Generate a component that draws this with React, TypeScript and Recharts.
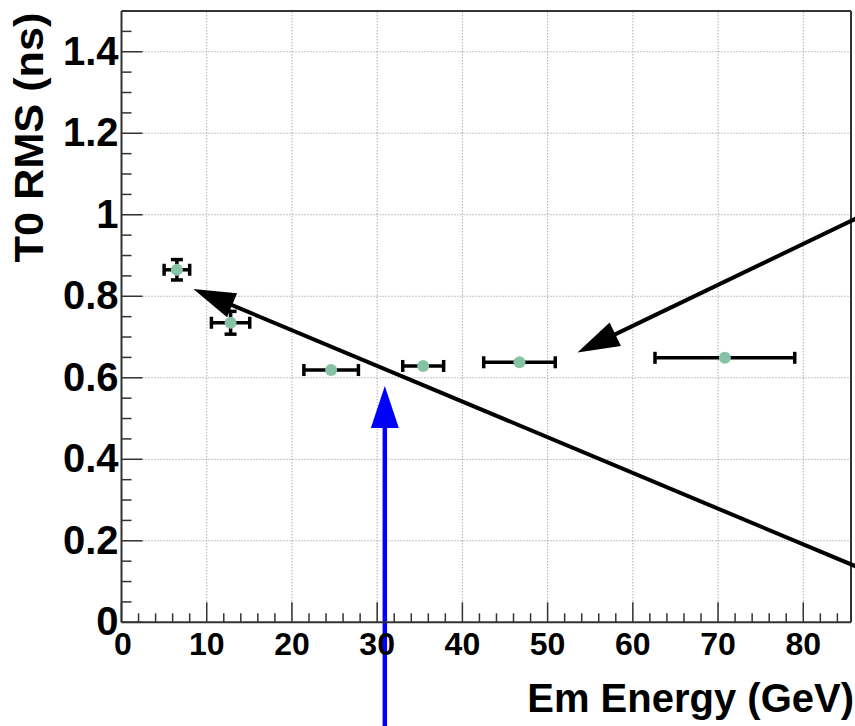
import React from 'react';
import { ComposedChart, Scatter, XAxis, YAxis, ErrorBar, ReferenceLine, Label } from 'recharts';

// ---- data ----
const emEnergy = [6.5, 12.8, 24.6, 35.4, 46.7, 70.8];
const emEnergyErr = [1.5, 2.25, 3.2, 2.4, 4.2, 8.2];
const t0Rms = [0.865, 0.735, 0.619, 0.629, 0.638, 0.649];
const t0RmsErr = [0.025, 0.028, 0, 0, 0, 0];

const xMajorTicks = [0, 10, 20, 30, 40, 50, 60, 70, 80];
const yMajorTicks = [0, 0.2, 0.4, 0.6, 0.8, 1, 1.2, 1.4];
const xMinorStep = 2;
const yMinorStep = 0.05;
const xDomain: [number, number] = [0, 85.6];
const yDomain: [number, number] = [0, 1.5];

const xTitle = 'Em Energy (GeV)';
const yTitle = 'T0 RMS (ns)';

// annotation arrows: tail -> tip (data coordinates)
const arrowTailX = [87, 87, 30.9];
const arrowTailY = [0.13, 0.999, -0.27];
const arrowTipX = [8.43, 53.5, 30.9];
const arrowTipY = [0.818, 0.662, 0.58];

// ---- derived tables ----
const points = emEnergy.map((x, i) => ({ x, y: t0Rms[i], xErr: emEnergyErr[i], yErr: t0RmsErr[i] }));
const xTicks: number[] = [];
for (let v = 0; v <= xDomain[1] + 1e-9; v += xMinorStep) xTicks.push(Math.round(v * 100) / 100);
const yTicks: number[] = [];
for (let i = 0; i * yMinorStep <= yDomain[1] + 1e-9; i++) yTicks.push(Math.round(i * yMinorStep * 1000) / 1000);

const FONT = '"Liberation Sans", Arial, Helvetica, sans-serif';
const AXIS_COLOR = '#333';

const isMajor = (v: number, list: number[]) => list.some((m) => Math.abs(m - v) < 1e-6);

const XTick = (props: any) => {
  const { x, y, payload } = props;
  const v = payload.value;
  const major = isMajor(v, xMajorTicks);
  return (
    <g>
      <line x1={x} y1={y} x2={x} y2={y - (major ? 20 : 9)} stroke={AXIS_COLOR} strokeWidth={1.5} />
      {major && (
        <text x={x + (v === 0 ? 1.5 : 0)} y={y + 33} textAnchor="middle" fontSize={32} fontWeight="bold" fontFamily={FONT} fill="#000">
          {String(v)}
        </text>
      )}
    </g>
  );
};

const YTick = (props: any) => {
  const { x, y, payload } = props;
  const v = payload.value;
  const major = isMajor(v, yMajorTicks);
  return (
    <g>
      <line x1={x} y1={y} x2={x + (major ? 21 : 10)} y2={y} stroke={AXIS_COLOR} strokeWidth={1.5} />
      {major && (
        <text x={x - 3} y={y + 13} textAnchor="end" fontSize={40} fontWeight="bold" fontFamily={FONT} fill="#000">
          {String(Math.round(v * 10) / 10)}
        </text>
      )}
    </g>
  );
};

const makeArrow = (color: string, width: number, headLen: number, headHalf: number) => (p: any) => {
  const { x1, y1, x2, y2 } = p;
  const dx = x2 - x1;
  const dy = y2 - y1;
  const len = Math.hypot(dx, dy) || 1;
  const ux = dx / len;
  const uy = dy / len;
  const bx = x2 - ux * headLen;
  const by = y2 - uy * headLen;
  const px = -uy;
  const py = ux;
  return (
    <g>
      <line x1={x1} y1={y1} x2={bx + ux * 2} y2={by + uy * 2} stroke={color} strokeWidth={width} />
      <polygon
        points={`${x2},${y2} ${bx + px * headHalf},${by + py * headHalf} ${bx - px * headHalf},${by - py * headHalf}`}
        fill={color}
      />
    </g>
  );
};

const arrowColors = ['#000', '#000', '#0000ff'];
const arrowWidths = [4, 4, 4.5];

const Marker = (props: any) => <circle cx={props.cx} cy={props.cy} r={6} fill="#86c3a6" />;

export default function App() {
  return (
    <div style={{ position: 'absolute', left: 0, top: 0, background: '#fff' }}>
      <ComposedChart width={855} height={726} margin={{ top: 11, right: 4, bottom: 0, left: 0 }} data={points}>
        <XAxis
          type="number"
          dataKey="x"
          domain={xDomain}
          allowDataOverflow
          ticks={xTicks}
          interval={0}
          tick={<XTick />}
          tickLine={false}
          tickSize={0}
          tickMargin={0}
          height={103.7}
          axisLine={{ stroke: AXIS_COLOR, strokeWidth: 2 }}
        >
          <Label
            content={() => (
              <text x={854} y={712} textAnchor="end" fontSize={40} fontWeight="bold" fontFamily={FONT} fill="#000">
                {xTitle}
              </text>
            )}
          />
        </XAxis>
        <YAxis
          type="number"
          dataKey="y"
          domain={yDomain}
          allowDataOverflow
          ticks={yTicks}
          interval={0}
          tick={<YTick />}
          tickLine={false}
          tickSize={0}
          tickMargin={0}
          width={121.5}
          axisLine={{ stroke: AXIS_COLOR, strokeWidth: 2 }}
        >
          <Label
            content={() => (
              <text
                x={43}
                y={137.5}
                transform="rotate(-90 43 137.5)"
                textAnchor="middle"
                fontSize={40}
                fontWeight="bold"
                fontFamily={FONT}
                fill="#000"
                textLength={250}
                lengthAdjust="spacingAndGlyphs"
              >
                {yTitle}
              </text>
            )}
          />
        </YAxis>

        {xMajorTicks.filter((v) => v > 0).map((v) => (
          <ReferenceLine key={'gx' + v} x={v} stroke="#888" strokeWidth={1} strokeDasharray="1 2" ifOverflow="visible" />
        ))}
        {yMajorTicks.filter((v) => v > 0).map((v) => (
          <ReferenceLine key={'gy' + v} y={v} stroke="#888" strokeWidth={1} strokeDasharray="1 2" ifOverflow="visible" />
        ))}
        <ReferenceLine y={yDomain[1]} stroke={AXIS_COLOR} strokeWidth={2} ifOverflow="visible" />
        <ReferenceLine x={xDomain[1]} stroke={AXIS_COLOR} strokeWidth={2} ifOverflow="visible" />

        <Scatter data={points} dataKey="y" shape={<Marker />} isAnimationActive={false}>
          <ErrorBar dataKey="xErr" direction="x" width={6} stroke="#000" strokeWidth={3.5} isAnimationActive={false} />
          <ErrorBar dataKey="yErr" direction="y" width={6} stroke="#000" strokeWidth={3.5} isAnimationActive={false} />
        </Scatter>

        {arrowTailX.map((tx, i) => (
          <ReferenceLine
            key={'arrow' + i}
            segment={[
              { x: tx, y: arrowTailY[i] },
              { x: arrowTipX[i], y: arrowTipY[i] },
            ]}
            ifOverflow="visible"
            shape={makeArrow(arrowColors[i], arrowWidths[i], 42, i === 2 ? 14 : 13)}
          />
        ))}
      </ComposedChart>
    </div>
  );
}
